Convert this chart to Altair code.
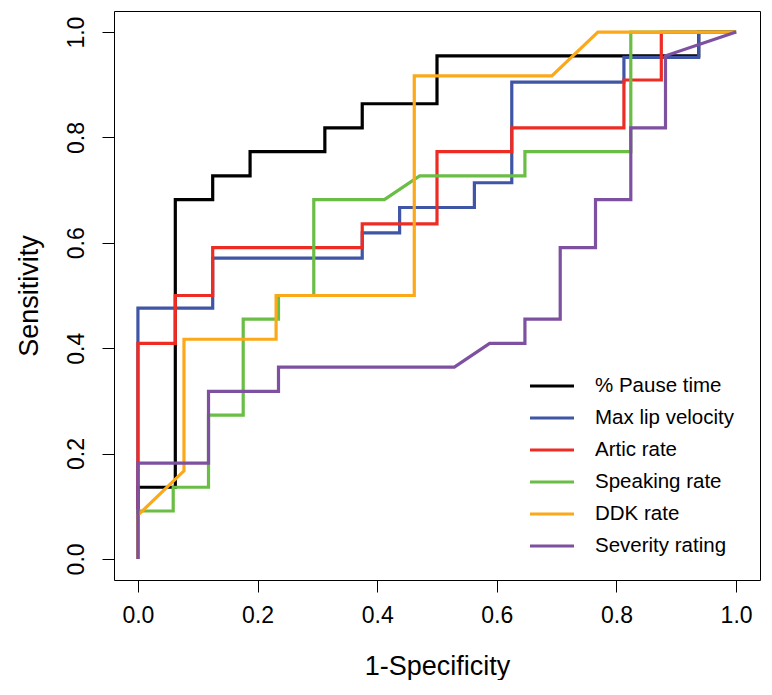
import altair as alt
import pandas as pd

series = ["% Pause time", "Max lip velocity", "Artic rate", "Speaking rate", "DDK rate", "Severity rating"]
colors = ["#000000", "#3F55A5", "#EE2C24", "#6ABD45", "#FBA819", "#7D50A0"]

pause_x = [0, 0, 0.0625, 0.0625, 0.125, 0.125, 0.1875, 0.1875, 0.3125, 0.3125, 0.375, 0.375, 0.5, 0.5, 0.9375, 0.9375, 1.0]
pause_y = [0, 0.136, 0.136, 0.682, 0.682, 0.727, 0.727, 0.773, 0.773, 0.818, 0.818, 0.864, 0.864, 0.955, 0.955, 1.0, 1.0]

lip_x = [0, 0, 0.125, 0.125, 0.375, 0.375, 0.4375, 0.4375, 0.5625, 0.5625, 0.625, 0.625, 0.8125, 0.8125, 0.9375, 0.9375, 1.0]
lip_y = [0, 0.476, 0.476, 0.571, 0.571, 0.619, 0.619, 0.667, 0.667, 0.714, 0.714, 0.905, 0.905, 0.952, 0.952, 1.0, 1.0]

artic_x = [0, 0, 0.0625, 0.0625, 0.125, 0.125, 0.375, 0.375, 0.5, 0.5, 0.625, 0.625, 0.8125, 0.8125, 0.875, 0.875, 1.0]
artic_y = [0, 0.409, 0.409, 0.5, 0.5, 0.591, 0.591, 0.636, 0.636, 0.773, 0.773, 0.818, 0.818, 0.909, 0.909, 1.0, 1.0]

speak_x = [0, 0, 0.059, 0.059, 0.118, 0.118, 0.176, 0.176, 0.235, 0.235, 0.294, 0.294, 0.412, 0.471, 0.647, 0.647, 0.824, 0.824, 1.0]
speak_y = [0, 0.091, 0.091, 0.136, 0.136, 0.273, 0.273, 0.455, 0.455, 0.5, 0.5, 0.682, 0.682, 0.727, 0.727, 0.773, 0.773, 1.0, 1.0]

ddk_x = [0, 0, 0.077, 0.077, 0.231, 0.231, 0.462, 0.462, 0.692, 0.769, 1.0]
ddk_y = [0, 0.083, 0.167, 0.417, 0.417, 0.5, 0.5, 0.917, 0.917, 1.0, 1.0]

sev_x = [0, 0, 0.118, 0.118, 0.235, 0.235, 0.529, 0.588, 0.647, 0.647, 0.706, 0.706, 0.765, 0.765, 0.824, 0.824, 0.882, 0.882, 1.0]
sev_y = [0, 0.182, 0.182, 0.318, 0.318, 0.364, 0.364, 0.409, 0.409, 0.455, 0.455, 0.591, 0.591, 0.682, 0.682, 0.818, 0.818, 0.955, 1.0]

curves = [(pause_x, pause_y), (lip_x, lip_y), (artic_x, artic_y),
          (speak_x, speak_y), (ddk_x, ddk_y), (sev_x, sev_y)]

rows = []
for name, (xs, ys) in zip(series, curves):
    for i, (a, b) in enumerate(zip(xs, ys)):
        rows.append({"series": name, "idx": i, "fpr": a, "tpr": b})
df = pd.DataFrame(rows)

FONT = "Liberation Sans"
W, H = 646, 569

color = alt.Color("series:N", scale=alt.Scale(domain=series, range=colors), legend=None)
ticks = [0, 0.2, 0.4, 0.6, 0.8, 1.0]

xaxis = alt.Axis(values=ticks, format=".1f", grid=False, domain=False, tickSize=12, tickColor="black",
                 labelFontSize=23, labelFont=FONT, labelColor="black", labelPadding=30,
                 labelBaseline="alphabetic", labelFlush=False, labelOverlap=False,
                 title="1-Specificity", titleFont=FONT, titleFontSize=27, titleFontWeight="normal",
                 titleColor="black", titleX=W / 2, titleY=94, titleAlign="center", titleBaseline="alphabetic")
yaxis = alt.Axis(values=ticks, format=".1f", grid=False, domain=False, tickSize=12, tickColor="black",
                 labelFontSize=23, labelFont=FONT, labelColor="black", labelPadding=19,
                 labelAngle=270, labelAlign="center", labelBaseline="alphabetic",
                 labelFlush=False, labelOverlap=False,
                 title="Sensitivity", titleFont=FONT, titleFontSize=27, titleFontWeight="normal",
                 titleColor="black", titleAngle=270, titleX=-77, titleY=H / 2, titleAlign="center",
                 titleBaseline="alphabetic")

base = alt.Chart(df)
lines = []
for name in series:
    lines.append(
        base.transform_filter(alt.datum.series == name)
        .mark_line(strokeWidth=3.2, strokeJoin="miter")
        .encode(
            x=alt.X("fpr:Q", scale=alt.Scale(domain=[-0.04, 1.04], nice=False, zero=False), axis=xaxis),
            y=alt.Y("tpr:Q", scale=alt.Scale(domain=[-0.04, 1.04], nice=False, zero=False), axis=yaxis),
            color=color,
            order="idx:Q",
        )
    )
curve_layer = alt.layer(*lines)

leg = pd.DataFrame({"series": series, "rank": list(range(len(series)))})
leg_base = alt.Chart(leg).transform_calculate(py="375 + 32 * datum.rank")
leg_rules = leg_base.mark_rule(strokeWidth=3).encode(
    x=alt.value(416), x2=alt.value(460),
    y=alt.Y("py:Q", scale=None, axis=None),
    color=color,
)
leg_text = leg_base.mark_text(align="left", baseline="middle", fontSize=20.5, font=FONT, color="black").encode(
    x=alt.value(481),
    y=alt.Y("py:Q", scale=None, axis=None),
    text="series:N",
)
legend_layer = alt.layer(leg_rules, leg_text)

chart = (
    alt.layer(curve_layer, legend_layer)
    .resolve_scale(y="independent")
    .properties(
        width=W, height=H,
        autosize=alt.AutoSizeParams(type="none"),
        padding={"left": 106, "top": 3, "right": 3, "bottom": 100},
        background="white",
    )
    .configure_view(stroke="black", strokeWidth=1)
)

chart.save("out.html", embed_options={"renderer": "svg", "actions": False})
